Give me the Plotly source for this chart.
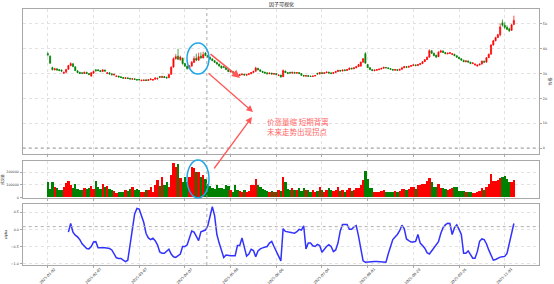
import plotly.graph_objects as go

# ---------------- data ----------------
opens = [38.0, 37.0, 32.4, 31.5, 31.9, 31.6, 31.4, 30.1, 30.5, 31.7,
         33.2, 33.9, 32.7, 31.1, 30.5, 30.3, 30.0, 30.5, 30.0, 29.0,
         30.1, 31.5, 31.5, 31.2, 30.8, 31.4, 30.0, 30.3, 29.9, 29.4,
         28.8, 29.0, 28.7, 28.4, 28.0, 28.3, 28.1, 27.7, 27.9, 27.6,
         27.7, 27.1, 27.2, 27.5, 27.2, 27.5, 27.3, 27.7, 27.8, 28.8,
         28.4, 28.8, 28.5, 28.3, 29.7, 32.6, 36.0, 37.0, 35.6, 36.2,
         34.0, 33.0, 32.0, 33.0, 34.5, 36.2, 35.4, 37.0, 36.3, 38.3,
         37.3, 36.6, 35.9, 35.2, 34.5, 33.8, 33.0, 32.8, 32.4, 31.6,
         30.6, 30.9, 30.2, 29.7, 29.2, 29.5, 29.8, 29.3, 29.6, 29.9,
         30.4, 30.9, 32.1, 31.5, 30.9, 30.6, 30.3, 29.9, 30.2, 29.7,
         30.0, 29.2, 29.4, 28.7, 31.0, 30.4, 30.5, 30.1, 30.5, 30.1,
         30.4, 30.0, 29.3, 28.9, 29.2, 29.0, 28.8, 29.0, 30.1, 29.8,
         30.4, 30.0, 30.3, 30.6, 30.3, 30.0, 30.4, 30.8, 31.3, 31.0,
         31.5, 31.2, 31.6, 32.2, 31.9, 32.3, 32.8, 33.0, 34.6, 38.0,
         33.6, 32.4, 31.6, 31.1, 31.3, 31.5, 31.8, 32.1, 32.5, 32.3,
         32.0, 31.7, 31.3, 31.6, 31.3, 31.7, 32.3, 32.8, 32.5, 32.9,
         33.2, 33.5, 33.2, 33.6, 34.0, 34.8, 35.6, 36.6, 39.2, 38.2,
         37.4, 36.8, 38.6, 39.1, 38.5, 37.9, 38.1, 37.7, 37.8, 37.2,
         36.6, 36.0, 35.4, 34.7, 35.1, 34.6, 34.0, 33.4, 33.0, 33.4,
         33.8, 35.0, 34.6, 36.4, 37.8, 41.5, 43.2, 44.5, 45.6, 50.5,
         49.5, 48.6, 48.0, 47.4, 49.8]

highs = [38.6, 37.3, 32.8, 32.3, 32.1, 31.8, 31.6, 30.9, 31.9, 33.5,
         34.5, 34.2, 32.9, 31.3, 30.7, 30.5, 30.8, 30.7, 30.2, 30.6,
         31.1, 31.8, 31.7, 31.4, 31.7, 31.6, 30.5, 30.5, 30.1, 29.9,
         29.2, 29.1, 28.9, 28.6, 28.5, 28.4, 28.2, 28.1, 28.0, 27.8,
         27.8, 27.5, 27.6, 27.6, 27.7, 28.1, 27.8, 28.5, 28.4, 29.0,
         29.1, 29.0, 28.7, 29.9, 33.0, 36.5, 37.8, 40.0, 37.2, 36.4,
         34.3, 33.2, 33.4, 35.0, 37.0, 38.0, 38.4, 38.5, 38.8, 38.6,
         37.5, 36.8, 36.1, 35.4, 34.7, 34.0, 33.2, 33.0, 32.5, 31.7,
         31.2, 31.0, 30.3, 29.9, 29.7, 30.0, 29.9, 29.8, 30.1, 30.6,
         31.1, 32.8, 32.3, 31.6, 31.0, 30.7, 30.4, 30.4, 30.3, 30.2,
         30.1, 29.6, 29.5, 31.6, 31.2, 30.6, 30.7, 30.7, 30.6, 30.6,
         30.5, 30.1, 29.4, 29.4, 29.3, 29.1, 29.2, 29.4, 30.3, 30.6,
         30.5, 30.5, 30.8, 30.7, 30.4, 30.6, 31.0, 31.5, 31.4, 31.6,
         31.6, 31.8, 32.4, 32.3, 32.5, 33.0, 33.8, 34.8, 36.2, 38.6,
         33.8, 32.5, 31.7, 31.6, 31.8, 32.0, 32.3, 32.7, 32.6, 32.4,
         32.1, 31.8, 31.8, 31.7, 31.9, 32.5, 33.0, 32.9, 33.1, 33.4,
         33.7, 33.6, 33.8, 34.2, 35.0, 35.8, 36.8, 39.8, 39.5, 38.4,
         37.6, 39.0, 39.6, 39.3, 38.6, 38.4, 38.6, 38.2, 37.9, 37.3,
         36.7, 36.1, 35.5, 35.3, 35.2, 34.7, 34.5, 34.0, 33.6, 34.0,
         35.2, 35.2, 36.6, 38.0, 41.8, 43.5, 44.8, 46.0, 50.2, 51.8,
         50.6, 49.4, 48.5, 50.0, 53.3]

lows = [36.9, 33.9, 31.2, 31.3, 31.2, 31.0, 30.6, 29.8, 30.4, 31.5,
        33.0, 32.6, 31.0, 30.2, 29.8, 29.8, 29.9, 29.8, 29.4, 28.7,
        29.9, 30.9, 31.0, 30.6, 30.7, 30.8, 29.8, 29.6, 29.3, 29.2,
        28.6, 28.4, 28.2, 27.9, 27.9, 27.8, 27.6, 27.6, 27.4, 27.2,
        27.2, 27.0, 27.1, 27.0, 27.1, 27.4, 27.2, 27.6, 27.6, 28.3,
        28.3, 28.2, 28.0, 28.2, 29.5, 32.4, 35.6, 35.4, 35.2, 33.6,
        32.6, 31.6, 31.8, 32.8, 34.3, 35.0, 35.2, 36.0, 36.1, 37.0,
        36.4, 35.6, 35.0, 34.3, 33.6, 32.8, 32.0, 32.3, 31.4, 30.6,
        30.5, 30.0, 29.4, 29.1, 29.1, 29.4, 29.2, 29.2, 29.5, 29.8,
        30.3, 30.8, 31.3, 30.7, 30.3, 30.0, 29.7, 29.8, 29.6, 29.6,
        29.4, 29.0, 28.4, 28.6, 30.2, 29.8, 30.0, 30.0, 30.0, 30.0,
        29.8, 29.1, 28.8, 28.8, 28.7, 28.6, 28.7, 28.9, 29.6, 29.7,
        29.8, 29.9, 30.2, 30.0, 29.8, 29.9, 30.3, 30.7, 30.8, 30.9,
        31.0, 31.1, 31.5, 31.7, 31.8, 32.2, 32.7, 32.8, 34.4, 34.0,
        32.2, 31.4, 31.0, 31.0, 31.2, 31.4, 31.7, 32.0, 32.1, 31.8,
        31.5, 31.2, 31.2, 31.1, 31.2, 31.6, 32.2, 32.3, 32.4, 32.8,
        33.1, 33.0, 33.1, 33.5, 33.9, 34.7, 35.5, 36.5, 37.9, 37.0,
        36.4, 36.7, 38.4, 38.3, 37.8, 37.8, 38.0, 37.6, 37.0, 36.4,
        35.8, 35.2, 34.6, 34.6, 34.4, 33.8, 33.9, 33.3, 32.8, 33.3,
        33.7, 34.4, 34.5, 36.3, 37.7, 41.3, 43.0, 44.3, 45.0, 48.9,
        48.0, 47.5, 46.8, 47.2, 49.5]

closes = [37.6, 34.2, 31.6, 31.9, 31.4, 31.2, 31.0, 30.4, 31.6, 33.2,
          34.0, 32.8, 31.2, 30.4, 30.0, 30.1, 30.5, 30.0, 29.6, 30.3,
          30.9, 31.1, 31.2, 30.8, 31.5, 31.0, 30.3, 29.8, 29.5, 29.7,
          29.0, 28.6, 28.4, 28.1, 28.3, 28.0, 27.8, 27.9, 27.6, 27.4,
          27.5, 27.3, 27.4, 27.2, 27.5, 27.8, 27.6, 28.2, 28.0, 28.5,
          28.8, 28.4, 28.2, 29.6, 32.5, 36.0, 36.8, 35.8, 36.6, 34.0,
          33.0, 32.0, 33.0, 34.6, 36.0, 35.4, 36.8, 36.3, 37.6, 37.3,
          36.6, 35.8, 35.2, 34.5, 33.8, 33.0, 32.2, 32.5, 31.6, 30.8,
          31.0, 30.2, 29.6, 29.3, 29.5, 29.8, 29.4, 29.6, 29.9, 30.4,
          30.9, 32.2, 31.5, 30.9, 30.5, 30.2, 29.9, 30.2, 29.8, 30.0,
          29.6, 29.4, 28.6, 31.2, 30.4, 30.0, 30.2, 30.5, 30.2, 30.4,
          30.0, 29.3, 29.0, 29.2, 28.9, 28.8, 29.0, 29.2, 29.8, 30.4,
          30.0, 30.3, 30.6, 30.2, 30.0, 30.4, 30.8, 31.3, 31.0, 31.4,
          31.2, 31.6, 32.2, 31.9, 32.3, 32.8, 33.6, 34.6, 36.0, 34.2,
          32.4, 31.6, 31.2, 31.4, 31.6, 31.8, 32.1, 32.5, 32.3, 32.0,
          31.7, 31.4, 31.6, 31.3, 31.7, 32.3, 32.8, 32.5, 32.9, 33.2,
          33.5, 33.2, 33.6, 34.0, 34.8, 35.6, 36.6, 39.2, 38.2, 37.2,
          36.6, 38.6, 39.1, 38.5, 38.0, 38.2, 38.4, 38.0, 37.2, 36.6,
          36.0, 35.4, 34.8, 35.1, 34.6, 34.0, 34.3, 33.8, 33.4, 33.8,
          35.0, 34.6, 36.4, 37.8, 41.5, 43.2, 44.5, 45.6, 48.8, 49.5,
          48.6, 47.8, 47.2, 49.6, 51.4]

volumes = [125000, 66000, 120000, 85000, 75000, 60000, 60000, 85000, 115000, 130000,
           100000, 75000, 110000, 70000, 55000, 60000, 75000, 65000, 75000, 90000,
           70000, 130000, 85000, 65000, 105000, 80000, 90000, 70000, 55000, 50000,
           35000, 45000, 40000, 45000, 60000, 50000, 65000, 85000, 55000, 65000,
           55000, 40000, 45000, 55000, 60000, 80000, 40000, 100000, 140000, 90000,
           160000, 95000, 120000, 80000, 175000, 275000, 245000, 265000, 155000, 120000,
           160000, 120000, 165000, 245000, 235000, 205000, 205000, 160000, 175000, 145000,
           105000, 90000, 75000, 65000, 100000, 75000, 75000, 70000, 95000, 90000,
           60000, 45000, 95000, 55000, 50000, 40000, 55000, 45000, 50000, 100000,
           95000, 145000, 100000, 85000, 70000, 60000, 50000, 45000, 50000, 45000,
           45000, 55000, 50000, 165000, 120000, 67000, 55000, 72000, 60000, 55000,
           72000, 50000, 72000, 58000, 60000, 45000, 55000, 42000, 50000, 80000,
           55000, 45000, 60000, 72000, 60000, 50000, 55000, 80000, 50000, 55000,
           45000, 60000, 78000, 50000, 60000, 75000, 78000, 100000, 140000, 210000,
           150000, 72000, 72000, 45000, 40000, 45000, 50000, 58000, 45000, 45000,
           42000, 45000, 50000, 45000, 48000, 65000, 67000, 62000, 67000, 85000,
           80000, 70000, 95000, 100000, 110000, 110000, 130000, 157000, 120000, 85000,
           80000, 110000, 75000, 72000, 68000, 58000, 70000, 78000, 85000, 80000,
           50000, 48000, 50000, 40000, 45000, 40000, 32000, 35000, 45000, 48000,
           72000, 60000, 80000, 110000, 183000, 130000, 130000, 135000, 157000, 165000,
           170000, 150000, 120000, 125000, 140000]

factor = [None, None, None, None, None, None, None, None, None,
          -0.08, 0.17, -0.08, -0.17, -0.22, -0.30, -0.42, -0.50, -0.56, -0.57,
          -0.50, -0.37, -0.36, -0.54, -0.53, -0.54, -0.54, -0.55, -0.56, -0.60,
          -0.70, -0.83, -0.85, -0.85, -0.90, -0.94, -0.90, -0.50, 0.00, 0.45,
          0.61, 0.59, 0.40, 0.20, -0.12, -0.25, -0.30, -0.26, -0.33, -0.45,
          -0.66, -0.70, -0.70, -0.65, -0.58, -0.72, -0.80, -0.82, -0.77, -0.72,
          -0.50, -0.50, -0.45, -0.22, -0.05, -0.08, -0.22, -0.33, -0.07, -0.04,
          -0.02, 0.10, 0.35, 0.66, 0.40, -0.15, -0.40, -0.60, -0.82, -0.75,
          -0.77, -0.77, -0.77, -0.77, -0.47, -0.47, -0.25, -0.48, -0.78, -0.72,
          -0.58, -0.62, -0.80, -0.63, -0.57, -0.54, -0.52, -0.50, -0.40, -0.35,
          -0.50, -0.62, -0.78, -0.92, 0.02, -0.06, -0.08, -0.09, -0.10, -0.11,
          -0.07, 0.00, -0.02, 0.10, -0.57, -0.40, -0.40, -0.48, -0.50, -0.44,
          -0.47, -0.67, -0.58, -0.50, -0.45, -0.50, -0.65, -0.60, -0.40, -0.05,
          0.14, 0.13, 0.14, 0.00, 0.00, 0.07, 0.11, -0.20, -0.55, -0.92,
          -0.96, -0.95, -0.94, -0.94, -0.94, -0.94, -0.94, -0.94, -0.94, -0.96,
          -0.72, -0.50, -0.30, -0.22, -0.15, -0.04, 0.12, 0.02, -0.28, -0.33,
          -0.37, -0.37, -0.35, -0.15, -0.40, -0.47, -0.55, -0.68, -0.72, -0.63,
          -0.55, -0.45, -0.36, -0.12, 0.05, 0.13, 0.18, 0.17, -0.15, 0.05,
          0.13, 0.00, -0.15, -0.70, -0.70, -0.63, -0.75, -0.84, -0.84, -0.65,
          -0.35, -0.28, -0.30, -0.42, -0.60, -0.78, -0.90, -0.88, -0.84, -0.81,
          -0.80, -0.79, -0.70, -0.42, -0.15, 0.17]

tick_positions = [0, 20, 40, 60, 80, 100, 120, 140, 160, 180, 200]
tick_labels = ["2025-01-02", "2025-02-07", "2025-03-07", "2025-04-07", "2025-05-08",
               "2025-06-06", "2025-07-04", "2025-08-01", "2025-08-29", "2025-09-26",
               "2025-11-03"]
event_index = 69.6
factor_ref_level = 0.08

# ---------------- styling ----------------
W, H = 554, 284
UP, DOWN = "#ff0000", "#008000"
FONT = "DejaVu Sans, Noto Sans CJK SC"
TICK_FONT = dict(size=3.3, color="#333", family=FONT)


def px_x(p):
    return p / W


def px_y(p):
    return 1 - p / H


idx = list(range(len(closes)))
vol_colors = [UP if c >= o else DOWN for o, c in zip(opens, closes)]

fig = go.Figure()
fig.add_trace(go.Candlestick(
    x=idx, open=opens, high=highs, low=lows, close=closes,
    increasing=dict(line=dict(color=UP, width=0.7), fillcolor=UP),
    decreasing=dict(line=dict(color=DOWN, width=0.7), fillcolor=DOWN),
    whiskerwidth=0, xaxis="x", yaxis="y", showlegend=False))
fig.add_trace(go.Bar(
    x=idx, y=volumes, marker=dict(color=vol_colors, line=dict(width=0)),
    width=0.8, xaxis="x2", yaxis="y2", showlegend=False))
fig.add_trace(go.Scatter(
    x=idx, y=factor, mode="lines", line=dict(color="#3232ff", width=1.5),
    xaxis="x3", yaxis="y3", showlegend=False))

ax_common = dict(showline=True, linecolor="#a8a8a8", linewidth=1.3, mirror=True,
                 showgrid=True, gridcolor="#e2e2e2", griddash="dot", gridwidth=0.7,
                 zeroline=False, ticks="outside", ticklen=2, tickcolor="#a8a8a8",
                 automargin=False, tickfont=TICK_FONT)

xdom = [px_x(22.7), px_x(539)]
fig.update_layout(
    width=W, height=H, autosize=False,
    margin=dict(l=0, r=0, t=0, b=0, pad=0),
    paper_bgcolor="white", plot_bgcolor="white",
    font=dict(family=FONT, size=4, color="#333"),
    bargap=0,
    xaxis=dict(domain=xdom, range=[-11, 215], tickvals=tick_positions,
               showticklabels=False, anchor="y",
               rangeslider=dict(visible=False), **ax_common),
    xaxis2=dict(domain=xdom, matches="x", tickvals=tick_positions,
                showticklabels=False, anchor="y2", **ax_common),
    xaxis3=dict(domain=xdom, matches="x", tickvals=tick_positions,
                showticklabels=False, anchor="y3", **ax_common),
    yaxis=dict(domain=[px_y(154), px_y(9)], range=[-2.4, 56], side="right",
               tickvals=[0, 10, 20, 30, 40, 50], anchor="x",
               title=dict(text="价格", font=dict(size=4), standoff=3), **ax_common),
    yaxis2=dict(domain=[px_y(198), px_y(161)], range=[-5000, 290000],
                tickvals=[0, 100000, 200000], tickformat="d", anchor="x2",
                title=dict(text="成交量", font=dict(size=3.5), standoff=3), **ax_common),
    yaxis3=dict(domain=[px_y(265), px_y(204)], range=[-1.04, 0.74],
                tickvals=[-1.0, -0.5, 0.0, 0.5], tickformat=".1f", anchor="x3",
                title=dict(text="alpha", font=dict(size=3.5), standoff=3), **ax_common),
)

shapes = []
for xr, yr in (("x", "y"), ("x2", "y2"), ("x3", "y3")):
    shapes.append(dict(type="line", xref=xr, yref=yr + " domain",
                       x0=event_index, x1=event_index, y0=0, y1=1,
                       line=dict(color="#a0a0a0", width=0.9, dash="dot")))
shapes.append(dict(type="line", xref="x domain", yref="y", x0=0, x1=1, y0=0, y1=0,
                   line=dict(color="#9a9a9a", width=1, dash="dot")))
shapes.append(dict(type="line", xref="x3 domain", yref="y3", x0=0, x1=1,
                   y0=factor_ref_level, y1=factor_ref_level,
                   line=dict(color="#b0b0b0", width=1, dash="dot")))
# highlight ellipses
shapes.append(dict(type="circle", xref="paper", yref="paper",
                   x0=px_x(187), x1=px_x(209), y0=px_y(74), y1=px_y(43),
                   line=dict(color="#1fa6e8", width=1.5)))
shapes.append(dict(type="circle", xref="paper", yref="paper",
                   x0=px_x(187), x1=px_x(209), y0=px_y(198), y1=px_y(160),
                   line=dict(color="#1fa6e8", width=1.5)))
fig.update_layout(shapes=shapes)

ARROW = "#ff5858"
annotations = [
    dict(text="因子可视化", x=px_x(281), y=px_y(5), xref="paper", yref="paper",
         showarrow=False, font=dict(size=5, color="#222"), xanchor="center", yanchor="middle"),
    dict(text="", x=px_x(240), y=px_y(78), xref="paper", yref="paper",
         showarrow=True, ax=-31, ay=-25, arrowhead=2, arrowsize=1, arrowwidth=1.6,
         arrowcolor=ARROW),
    dict(text="", x=px_x(253), y=px_y(112), xref="paper", yref="paper",
         showarrow=True, ax=-46, ay=-40, arrowhead=2, arrowsize=1, arrowwidth=1.3,
         arrowcolor=ARROW),
    dict(text="", x=px_x(252), y=px_y(117), xref="paper", yref="paper",
         showarrow=True, ax=-39, ay=53, arrowhead=2, arrowsize=1, arrowwidth=1.3,
         arrowcolor=ARROW),
    dict(text="价涨量缩 短期背离<br>未来走势出现拐点", x=px_x(265), y=px_y(126),
         xref="paper", yref="paper", showarrow=False, xanchor="left", yanchor="middle",
         align="left", font=dict(size=7.5, color="#ff6666", family="Noto Sans CJK SC")),
]
# rotated date labels centred under their ticks (matplotlib style)
for pos, lab in zip(tick_positions, tick_labels):
    annotations.append(dict(text=lab, x=pos, y=px_y(276), xref="x3", yref="paper",
                            showarrow=False, textangle=-45, xanchor="center",
                            yanchor="middle", font=dict(size=3.6, color="#333", family=FONT)))
fig.update_layout(annotations=annotations)

fig.write_html("out.html")
